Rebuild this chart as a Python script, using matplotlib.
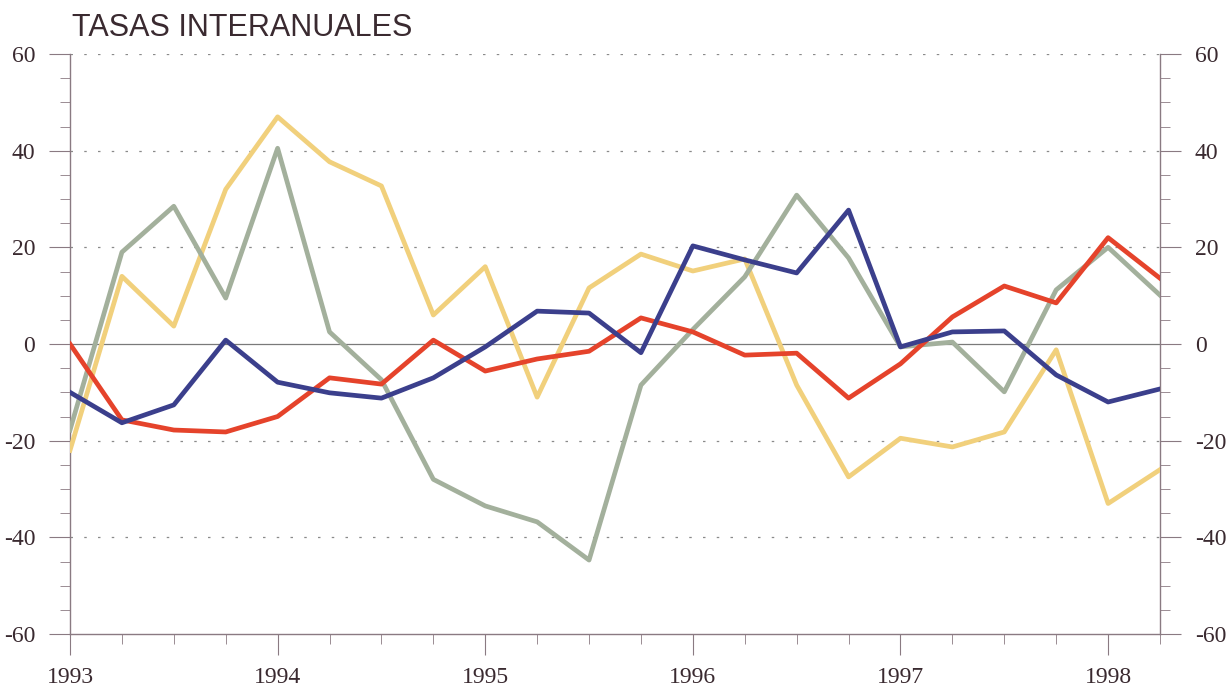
import matplotlib.pyplot as plt
from matplotlib.ticker import MultipleLocator

plt.rcParams['axes.unicode_minus'] = False

# quarterly points, 1993 Q1 .. 1998 Q2
quarters = [1993 + q / 4 for q in range(22)]

red = [0, -15.7, -17.8, -18.2, -15, -7, -8.3, 0.8, -5.6, -3.1, -1.5,
       5.4, 2.5, -2.3, -1.9, -11.2, -4.1, 5.6, 12, 8.5, 22, 13.6]
blue = [-10, -16.3, -12.6, 0.8, -7.9, -10.1, -11.2, -7, -0.6, 6.8, 6.4,
        -1.8, 20.3, 17.4, 14.7, 27.7, -0.6, 2.5, 2.7, -6.4, -12, -9.3]
gray = [-17.8, 19, 28.5, 9.5, 40.5, 2.5, -7.4, -28, -33.5, -36.8, -44.7,
        -8.5, 3, 13.9, 30.8, 17.8, -0.6, 0.4, -9.9, 11.2, 20, 10.1]
yellow = [-22, 14, 3.7, 32, 47, 37.7, 32.7, 6, 16, -11, 11.6,
          18.6, 15.1, 17.6, -8.5, -27.5, -19.5, -21.3, -18.2, -1.2, -33, -26]

years = [1993, 1994, 1995, 1996, 1997, 1998]
yticks = [60, 40, 20, 0, -20, -40, -60]
grid_levels = [60, 40, 20, -20, -40]

axis_col = '#8a7a82'
text_col = '#3a2a30'

fig = plt.figure(figsize=(12.31, 6.86), dpi=100)
ax = fig.add_axes([70 / 1231, 52 / 686, 1090 / 1231, 580 / 686])

for g in grid_levels:
    ax.axhline(g, color='#8a8a8a', lw=0.9, ls=(0, (2, 9)), zorder=1)
ax.axhline(0, color='#7a7a7a', lw=0.9, zorder=1)

ax.plot(quarters, yellow, color='#f1d07c', lw=3.4, zorder=3)
ax.plot(quarters, gray, color='#a3b09c', lw=3.4, zorder=4)
ax.plot(quarters, red, color='#e5432b', lw=3.4, zorder=5)
ax.plot(quarters, blue, color='#3b3f8c', lw=3.4, zorder=6)

ax.set_xlim(1993, 1998.25)
ax.set_ylim(-60, 60)

ax.spines['top'].set_visible(False)
for s in ['left', 'right', 'bottom']:
    ax.spines[s].set_color(axis_col)
    ax.spines[s].set_linewidth(1)

ax.set_xticks(years)
ax.set_xticklabels([str(y) for y in years])
ax.xaxis.set_minor_locator(MultipleLocator(0.25))
ax.set_yticks(yticks)
ax.yaxis.set_minor_locator(MultipleLocator(5))

ax.tick_params(axis='both', which='major', direction='out', length=15,
               color=axis_col, labelcolor=text_col, labelsize=17)
ax.tick_params(axis='both', which='minor', direction='out', length=7,
               color=axis_col)
ax.tick_params(axis='y', which='both', left=True, right=True,
               labelleft=True, labelright=True, pad=10)
ax.tick_params(axis='x', which='major', pad=9)

for lab in ax.get_xticklabels() + ax.get_yticklabels():
    lab.set_family('Liberation Serif')
for lab in ax.yaxis.get_ticklabels(which='major'):
    lab.set_family('Liberation Serif')
for t in ax.yaxis.get_major_ticks():
    t.label2.set_family('Liberation Serif')

fig.text(72 / 1231, 1 - 28 / 686, 'TASAS INTERANUALES', fontsize=22,
         color=text_col, family='Liberation Sans', va='center', ha='left')

fig.savefig('out.png', dpi=100)
